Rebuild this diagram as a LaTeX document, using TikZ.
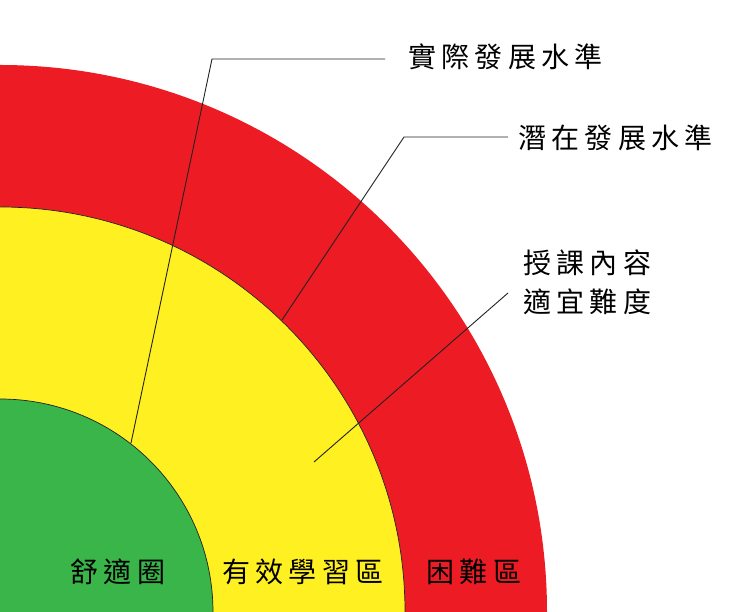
\documentclass[tikz,border=0pt]{standalone}
\usepackage{fontspec}
\newfontfamily\cjk[LetterSpace=19]{Noto Sans CJK TC}
\definecolor{zred}{HTML}{ED1C24}
\definecolor{zyellow}{HTML}{FFF021}
\definecolor{zgreen}{HTML}{39B54A}
\definecolor{zline}{HTML}{222222}
\tikzset{
  lbl/.style={font=\cjk\fontsize{28}{32}\selectfont, inner sep=0pt, text=black},
  leader/.style={draw=zline, line width=0.9pt},
}
\begin{document}
\begin{tikzpicture}[x=1pt,y=1pt]
\useasboundingbox (0,0) rectangle (740,612);
\begin{scope}
\clip (0,0) rectangle (740,612);
\fill[zred] (0,0) circle (547pt);
\filldraw[fill=zyellow, draw=zline, line width=0.7pt] (0,0) circle (405pt);
\filldraw[fill=zgreen, draw=zline, line width=0.7pt] (0,0) circle (213pt);
\end{scope}
% labels
\node[lbl, anchor=west] (actual) at (408,555) {實際發展水準};
\node[lbl, anchor=west] (potential) at (518,474) {潛在發展水準};
\node[lbl, anchor=west] (content1) at (523,349) {授課內容};
\node[lbl, anchor=west] (content2) at (523,310) {適宜難度};
\node[lbl] (comfort) at (118,40) {舒適圈};
\node[lbl] (effective) at (303,40) {有效學習區};
\node[lbl] (hard) at (474,40) {困難區};
% leader lines
\coordinate (a0) at (131,169);
\coordinate (a1) at (212,553);
\coordinate (a2) at (385,553);
\coordinate (b0) at (282,292);
\coordinate (b1) at (404,475);
\coordinate (b2) at (508,475);
\coordinate (c0) at (314,150);
\coordinate (c1) at (508,319);
\draw[leader] (a0) -- (a1) -- (a2);
\draw[leader] (b0) -- (b1) -- (b2);
\draw[leader] (c0) -- (c1);
\end{tikzpicture}
\end{document}
